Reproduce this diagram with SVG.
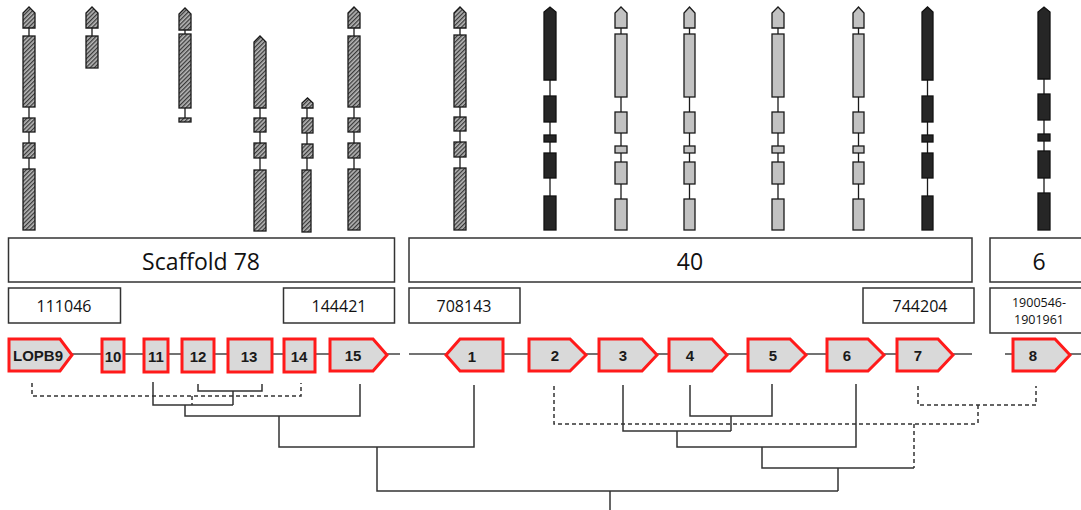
<svg xmlns="http://www.w3.org/2000/svg" width="1081" height="510" viewBox="0 0 1081 510">
<defs>
<pattern id="hatch" patternUnits="userSpaceOnUse" width="3" height="3" patternTransform="rotate(45)">
<rect width="3" height="3" fill="#b8b8b8"/>
<rect width="1.3" height="3" fill="#3a3a3a"/>
</pattern>
<style>
.h{fill:url(#hatch);stroke:#1a1a1a;stroke-width:1.3}
.b{fill:#262626;stroke:#111;stroke-width:1.3}
.g{fill:#c2c2c2;stroke:#1a1a1a;stroke-width:1.3}
.in{stroke:#1a1a1a;stroke-width:1.3;fill:none}
.box{fill:#fff;stroke:#333;stroke-width:1.5}
.big{font-family:"Open Sans","Noto Sans",sans-serif;font-size:23px;fill:#111;text-anchor:middle}
.num{font-family:"Open Sans","Noto Sans",sans-serif;font-size:16px;fill:#111;text-anchor:middle}
.sm{font-family:"Open Sans","Noto Sans",sans-serif;font-size:12.5px;fill:#111;text-anchor:middle}
.gene{fill:#d9d9d9;stroke:#ff1a1a;stroke-width:3;stroke-linejoin:miter}
.gl{font-family:"Liberation Sans",Arial,sans-serif;font-size:15px;font-weight:bold;fill:#1a1a1a;text-anchor:middle}
.bb{stroke:#444;stroke-width:1.5;fill:none}
.t{stroke:#333;stroke-width:1.5;fill:none}
.d{stroke:#333;stroke-width:1.5;fill:none;stroke-dasharray:4,3}
</style>
</defs>
<rect width="1081" height="510" fill="#fff"/>

<!-- gene structures -->
<g id="struct-1">
<line class="in" x1="29" y1="28" x2="29" y2="230"/>
<polygon class="h" points="23,28 23,13 29,7 35,13 35,28"/>
<rect class="h" x="23" y="36" width="12" height="71"/>
<rect class="h" x="23" y="118" width="12" height="14"/>
<rect class="h" x="23" y="143" width="12" height="15"/>
<rect class="h" x="23" y="169" width="12" height="61"/>
</g>
<g id="struct-2">
<line class="in" x1="92" y1="28" x2="92" y2="36"/>
<polygon class="h" points="86,28 86,13 92,7 98,13 98,28"/>
<rect class="h" x="86" y="36" width="12" height="32"/>
</g>
<g id="struct-3">
<line class="in" x1="185" y1="30" x2="185" y2="118"/>
<polygon class="h" points="179,30 179,14 185,8 191,14 191,30"/>
<rect class="h" x="179" y="34" width="12" height="74"/>
<rect class="h" x="179" y="118" width="12" height="4"/>
</g>
<g id="struct-4">
<line class="in" x1="260" y1="108" x2="260" y2="231"/>
<polygon class="h" points="254,108 254,42 260,36 266,42 266,108"/>
<rect class="h" x="254" y="118" width="12" height="14"/>
<rect class="h" x="254" y="143" width="12" height="15"/>
<rect class="h" x="254" y="170" width="12" height="61"/>
</g>
<g id="struct-5">
<line class="in" x1="307" y1="108" x2="307" y2="232"/>
<polygon class="h" points="302,108 302,103 307.5,98 313,103 313,108"/>
<rect class="h" x="302" y="118" width="11" height="15"/>
<rect class="h" x="302" y="144" width="11" height="14"/>
<rect class="h" x="302" y="170" width="9" height="62"/>
</g>
<g id="struct-6">
<line class="in" x1="354" y1="28" x2="354" y2="230"/>
<polygon class="h" points="348,28 348,13 354,7 360,13 360,28"/>
<rect class="h" x="348" y="36" width="12" height="71"/>
<rect class="h" x="348" y="118" width="12" height="14"/>
<rect class="h" x="348" y="143" width="12" height="15"/>
<rect class="h" x="348" y="169" width="12" height="61"/>
</g>
<g id="struct-7">
<line class="in" x1="460" y1="28" x2="460" y2="230"/>
<polygon class="h" points="454,28 454,13 460,7 466,13 466,28"/>
<rect class="h" x="454" y="35" width="12" height="72"/>
<rect class="h" x="454" y="117" width="12" height="14"/>
<rect class="h" x="454" y="142" width="12" height="15"/>
<rect class="h" x="454" y="168" width="12" height="62"/>
</g>
<g id="struct-8">
<line class="in" x1="550" y1="80" x2="550" y2="230"/>
<polygon class="b" points="544,80 544,12 550,7 556,12 556,80"/>
<rect class="b" x="544" y="96" width="12" height="26"/>
<rect class="b" x="544" y="135" width="12" height="7"/>
<rect class="b" x="544" y="153" width="12" height="25"/>
<rect class="b" x="544" y="196" width="12" height="34"/>
</g>
<g id="struct-9">
<line class="in" x1="621" y1="28" x2="621" y2="230"/>
<polygon class="g" points="615,28 615,13 621,7 627,13 627,28"/>
<rect class="g" x="615" y="34" width="12" height="63"/>
<rect class="g" x="615" y="112" width="12" height="21"/>
<rect class="g" x="615" y="146" width="12" height="7"/>
<rect class="g" x="615" y="162" width="12" height="22"/>
<rect class="g" x="615" y="199" width="12" height="31"/>
</g>
<g id="struct-10">
<line class="in" x1="689.5" y1="28" x2="689.5" y2="230"/>
<polygon class="g" points="684,28 684,13 689.5,7 695,13 695,28"/>
<rect class="g" x="684" y="34" width="11" height="63"/>
<rect class="g" x="684" y="112" width="11" height="21"/>
<rect class="g" x="684" y="146" width="11" height="7"/>
<rect class="g" x="684" y="162" width="11" height="22"/>
<rect class="g" x="684" y="199" width="11" height="31"/>
</g>
<g id="struct-11">
<line class="in" x1="778" y1="28" x2="778" y2="230"/>
<polygon class="g" points="772,28 772,13 778,7 784,13 784,28"/>
<rect class="g" x="772" y="34" width="12" height="63"/>
<rect class="g" x="772" y="112" width="12" height="21"/>
<rect class="g" x="772" y="146" width="12" height="7"/>
<rect class="g" x="772" y="162" width="12" height="22"/>
<rect class="g" x="772" y="199" width="12" height="31"/>
</g>
<g id="struct-12">
<line class="in" x1="858.5" y1="28" x2="858.5" y2="230"/>
<polygon class="g" points="853,28 853,13 858.5,7 864,13 864,28"/>
<rect class="g" x="853" y="34" width="11" height="63"/>
<rect class="g" x="853" y="112" width="11" height="21"/>
<rect class="g" x="853" y="146" width="11" height="7"/>
<rect class="g" x="853" y="162" width="11" height="22"/>
<rect class="g" x="853" y="199" width="11" height="31"/>
</g>
<g id="struct-13">
<line class="in" x1="927.5" y1="80" x2="927.5" y2="230"/>
<polygon class="b" points="922,80 922,12 927.5,7 933,12 933,80"/>
<rect class="b" x="922" y="96" width="11" height="26"/>
<rect class="b" x="922" y="135" width="11" height="7"/>
<rect class="b" x="922" y="153" width="11" height="25"/>
<rect class="b" x="922" y="196" width="11" height="34"/>
</g>
<g id="struct-14">
<line class="in" x1="1044" y1="79" x2="1044" y2="230"/>
<polygon class="b" points="1038,79 1038,12 1044,7 1050,12 1050,79"/>
<rect class="b" x="1038" y="94" width="12" height="26"/>
<rect class="b" x="1038" y="134" width="12" height="7"/>
<rect class="b" x="1038" y="151" width="12" height="27"/>
<rect class="b" x="1038" y="193" width="12" height="37"/>
</g>

<!-- scaffold boxes -->
<g id="scaffold-78">
<rect class="box" x="8.5" y="238" width="386" height="44"/>
<text class="big" x="201" y="270">Scaffold 78</text>
</g>
<g id="scaffold-40">
<rect class="box" x="409" y="238" width="563" height="44"/>
<text class="big" x="690" y="270">40</text>
</g>
<g id="scaffold-6">
<rect class="box" x="990" y="238" width="100" height="44"/>
<text class="big" x="1039" y="270">6</text>
</g>
<g id="pos-111046">
<rect class="box" x="8.5" y="288" width="112" height="35"/>
<text class="num" x="64" y="312">111046</text>
</g>
<g id="pos-144421">
<rect class="box" x="283.5" y="288" width="111" height="35"/>
<text class="num" x="339" y="312">144421</text>
</g>
<g id="pos-708143">
<rect class="box" x="409" y="288" width="111" height="35"/>
<text class="num" x="464" y="312">708143</text>
</g>
<g id="pos-744204">
<rect class="box" x="863" y="288" width="111" height="35"/>
<text class="num" x="920" y="312">744204</text>
</g>
<g id="pos-1900546">
<rect class="box" x="990" y="288" width="100" height="45"/>
<text class="sm" x="1039" y="307">1900546-</text>
<text class="sm" x="1039" y="324">1901961</text>
</g>

<!-- backbone + dendrogram connectors -->
<g id="connectors">
<line class="bb" x1="72" y1="354" x2="400" y2="354"/>
<line class="bb" x1="409" y1="354" x2="972" y2="354"/>
<line class="bb" x1="1005" y1="354" x2="1081" y2="354"/>

<path class="d" d="M32,383 V396 H301 V383"/>
<path class="t" d="M198,384 V391 H262 V384"/>
<path class="t" d="M233,391 V405"/>
<path class="t" d="M153,382 V405 H233"/>
<path class="d" d="M192,396 V405"/>
<path class="t" d="M185,405 V416 H360 V384"/>
<path class="t" d="M279,416 V447 H474 V385"/>
<path class="t" d="M377,447 V491 H838"/>
<path class="t" d="M610,491 V510"/>

<path class="d" d="M554,386 V424 H978"/>
<path class="d" d="M918,386 V405 H1036 V386"/>
<path class="d" d="M978,405 V424"/>
<path class="t" d="M690,385 V416 H772 V384"/>
<path class="t" d="M731,416 V431"/>
<path class="t" d="M623,385 V431 H731"/>
<path class="t" d="M677,431 V447 H856 V384"/>
<path class="t" d="M762,447 V468 H914"/>
<path class="d" d="M914,424 V468"/>
<path class="t" d="M838,468 V491"/>
</g>

<!-- genes -->
<g id="gene-LOPB9"><polygon class="gene" points="9,339 60,339 72,355 60,371 9,371"/><text class="gl" x="38" y="361">LOPB9</text></g>
<g id="gene-10"><rect class="gene" x="102" y="339" width="22" height="33"/><text class="gl" x="113" y="362">10</text></g>
<g id="gene-11"><rect class="gene" x="144" y="339" width="24" height="33"/><text class="gl" x="156" y="362">11</text></g>
<g id="gene-12"><rect class="gene" x="182" y="339" width="32" height="33"/><text class="gl" x="198" y="362">12</text></g>
<g id="gene-13"><rect class="gene" x="228" y="339" width="44" height="33"/><text class="gl" x="249" y="362">13</text></g>
<g id="gene-14"><rect class="gene" x="284" y="339" width="31" height="33"/><text class="gl" x="299" y="362">14</text></g>
<g id="gene-15"><polygon class="gene" points="330,339 373,339 387,355 373,371 330,371"/><text class="gl" x="353" y="361">15</text></g>
<g id="gene-1"><polygon class="gene" points="446,355 460,339 503,339 503,371 460,371"/><text class="gl" x="472" y="362">1</text></g>
<g id="gene-2"><polygon class="gene" points="529,339 570,339 586,355 570,371 529,371"/><text class="gl" x="555" y="361">2</text></g>
<g id="gene-3"><polygon class="gene" points="599,339 642,339 657,355 642,371 599,371"/><text class="gl" x="623" y="361">3</text></g>
<g id="gene-4"><polygon class="gene" points="669,339 712,339 727,355 712,371 669,371"/><text class="gl" x="690" y="361">4</text></g>
<g id="gene-5"><polygon class="gene" points="748,339 790,339 806,355 790,371 748,371"/><text class="gl" x="773" y="361">5</text></g>
<g id="gene-6"><polygon class="gene" points="827,339 868,339 884,355 868,371 827,371"/><text class="gl" x="847" y="361">6</text></g>
<g id="gene-7"><polygon class="gene" points="897,339 938,339 953,355 938,371 897,371"/><text class="gl" x="918" y="361">7</text></g>
<g id="gene-8"><polygon class="gene" points="1013,339 1055,339 1070,355 1055,371 1013,371"/><text class="gl" x="1033" y="361">8</text></g>
</svg>
